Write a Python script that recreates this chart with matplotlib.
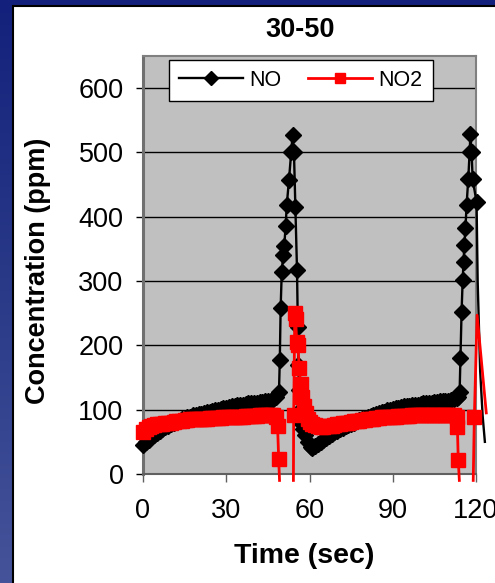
import numpy as np
import matplotlib
matplotlib.use('Agg')
import matplotlib.pyplot as plt
from matplotlib.patches import Rectangle

plt.rcParams['font.family'] = ['Liberation Sans', 'DejaVu Sans']

# NO (black diamonds), time in sec, concentration in ppm
no_time = [0, 1, 2, 3, 4, 5, 6, 7, 8, 9, 10, 11, 12, 13, 14, 15, 16, 17, 18, 19,
           20, 21, 22, 23, 24, 25, 26, 27, 28, 29, 30, 31, 32, 33, 34, 35, 36, 37, 38, 39,
           40, 41, 42, 43, 44, 45, 46, 47, 48,
           49.0, 49.3, 49.6, 50.0, 50.5, 50.9, 51.4, 51.8, 52.6, 53.4, 53.9,
           54.4, 54.9, 55.5, 55.8, 56.0, 56.2, 56.5, 56.8, 57.5, 58.5, 59.5, 60.5,
           61, 62, 63, 64, 65, 66, 67, 68, 69, 70, 71, 72, 73, 74, 75, 76, 77, 78, 79,
           80, 81, 82, 83, 84, 85, 86, 87, 88, 89, 90, 91, 92, 93, 94, 95, 96, 97, 98, 99,
           100, 101, 102, 103, 104, 105, 106, 107, 108, 109, 110, 111, 112, 113,
           113.6, 114.1, 114.4, 114.8, 115.2, 115.5, 115.8, 116.2, 116.6, 117.2, 117.7,
           118.0, 118.4, 118.8, 120.2, 120.6, 121.5, 122.4, 123.2]
no_ppm = [45, 49, 53, 57, 61, 64, 67, 70, 73, 75, 77, 79, 81, 83, 85, 86, 88, 89, 91, 92,
          93, 94, 95, 96, 97, 98, 99, 100, 101, 102, 103, 104, 105, 106, 107, 108, 108, 109, 110, 110,
          111, 111, 112, 112, 113, 113, 114, 116, 119,
          128, 178, 258, 314, 340, 355, 385, 418, 457, 500, 527,
          500, 415, 317, 228, 170, 130, 100, 80, 70, 60, 50, 42,
          40, 43, 46, 50, 53, 56, 59, 62, 65, 67, 70, 72, 74, 76, 78, 80, 82, 84, 86,
          87, 89, 90, 91, 93, 95, 96, 97, 99, 100, 101, 102, 103, 104, 105, 106, 106, 107, 108, 108,
          109, 110, 110, 111, 111, 112, 112, 113, 113, 114, 114, 115, 116, 118,
          120, 128, 180, 252, 302, 330, 356, 382, 418, 458, 500,
          529, 501, 458, 423, 300, 160, 90, 50]

# NO2 (red squares); nan = gap, -10 = reading below the axis
no2_time = [0, 1, 2, 3, 4, 5, 6, 7, 8, 9, 10, 11, 12, 13, 14, 15, 16, 17, 18, 19,
            20, 21, 22, 23, 24, 25, 26, 27, 28, 29, 30, 31, 32, 33, 34, 35, 36, 37, 38, 39,
            40, 41, 42, 43, 44, 45, 46, 47, 48, 48.5, 48.9, 49.2, 51.0,
            54.2, 54.3, 54.7, 55.0, 55.4, 55.8, 56.3, 56.8, 57.4, 58.0, 58.6, 59.3,
            60, 61, 62, 63, 64, 65, 66, 67, 68, 69, 70, 71, 72, 73, 74, 75, 76, 77, 78, 79,
            80, 81, 82, 83, 84, 85, 86, 87, 88, 89, 90, 91, 92, 93, 94, 95, 96, 97, 98, 99,
            100, 101, 102, 103, 104, 105, 106, 107, 108, 109, 110, 111, 112, 113,
            113.3, 113.6, 114.0, 116.0, 119.0, 119.4, 120.4, 123.7]
no2_ppm = [65, 70, 73, 75, 76, 77, 78, 78, 79, 79, 80, 81, 82, 83, 83, 84, 84, 85, 85, 85,
           86, 86, 86, 86, 87, 87, 87, 87, 87, 88, 88, 88, 88, 89, 89, 89, 89, 90, 90, 90,
           90, 90, 91, 91, 91, 91, 91, 91, 88, 74, 23, -10, np.nan,
           -10, 92, 250, 241, 205, 200, 165, 140, 120, 105, 95, 86,
           81, 78, 76, 74, 73, 73, 74, 74, 75, 76, 77, 78, 79, 79, 80, 81, 82, 82, 83, 84,
           84, 85, 86, 86, 87, 87, 88, 88, 88, 89, 89, 89, 90, 90, 90, 90, 90, 91, 91, 91,
           91, 91, 92, 92, 92, 92, 92, 92, 92, 92, 92, 92, 92, 88,
           73, 22, -10, np.nan, -10, 88, 247, 95]

y_ticks = [0, 100, 200, 300, 400, 500, 600]
x_ticks = [0, 30, 60, 90, 120]

fig = plt.figure(figsize=(4.95, 5.83), dpi=100)

# slide background + white chart panel
bg = fig.add_axes([0, 0, 1, 1], zorder=-10)
grad = np.linspace(0, 1, 256).reshape(-1, 1)
cmap = matplotlib.colors.LinearSegmentedColormap.from_list('bg', ['#14217c', '#2a3a88', '#45539a'])
bg.imshow(grad, aspect='auto', cmap=cmap, extent=[0, 1, 0, 1], origin='upper')
bg.axis('off')
fig.add_artist(Rectangle((13 / 495, -0.05), 1.0, 1.05 - 6 / 583, transform=fig.transFigure,
                         facecolor='white', edgecolor='black', lw=1.5, zorder=-5))

ax = fig.add_axes([143 / 495, 1 - 474 / 583, 333 / 495, 418 / 583])
ax.set_facecolor('#c0c0c0')

no_t = np.array(no_time)
no_v = np.array(no_ppm)
no2_t = np.array(no2_time)
no2_v = np.array(no2_ppm)

no_marks = list((no_v >= 0) & (no_t <= 120.3))
no2_marks = list((no2_v >= 0) & (no2_t <= 120))

ax.plot(no_t, no_v, color='black', lw=1.7, marker='D', ms=8, mfc='black', mec='black',
        markevery=no_marks, clip_on=False, label='NO', zorder=3)
ax.plot(no2_t, no2_v, color='#ff0000', lw=2.0, marker='s', ms=9.5, mfc='#ff0000', mec='#ff0000',
        markevery=no2_marks, clip_on=False, label='NO2', zorder=4)

ax.set_xlim(0, 120)
ax.set_ylim(0, 650)
ax.set_yticks(y_ticks)
ax.set_xticks(x_ticks)
ax.set_yticklabels([str(v) for v in y_ticks], fontsize=19.5)
ax.set_xticklabels([str(v) for v in x_ticks], fontsize=19.5)
ax.tick_params(axis='y', direction='out', length=5, width=1, color='black', pad=9)
ax.tick_params(axis='x', direction='out', length=6, width=1, color='#606060', pad=11)
ax.grid(axis='y', color='black', lw=1)
ax.set_axisbelow(True)

for s in ['top', 'right']:
    ax.spines[s].set_color('#808080')
    ax.spines[s].set_linewidth(1.5)
ax.spines['left'].set_color('#707070')
ax.spines['left'].set_linewidth(2.2)
ax.spines['bottom'].set_color('#606060')
ax.spines['bottom'].set_linewidth(1.5)

leg = ax.legend(loc='upper left', bbox_to_anchor=(0.078, 0.99), borderaxespad=0, ncol=2,
                fontsize=15.5, handlelength=3.0, handletextpad=0.3, columnspacing=1.2,
                borderpad=0.45, numpoints=1, fancybox=False, framealpha=1)
leg.get_frame().set_edgecolor('black')
leg.get_frame().set_linewidth(1)
for h in leg.legend_handles:
    h.set_markersize(7.5)

fig.text(300 / 495, 1 - 30 / 583, '30-50', fontsize=19.5, fontweight='bold', ha='center', va='center')
fig.text(38 / 495, 1 - 271 / 583, 'Concentration (ppm)', fontsize=19.5, fontweight='bold',
         rotation=90, ha='center', va='center')
fig.text(304 / 495, 1 - 556 / 583, 'Time (sec)', fontsize=20.5, fontweight='bold',
         ha='center', va='center')

fig.savefig('out.png', dpi=100)
